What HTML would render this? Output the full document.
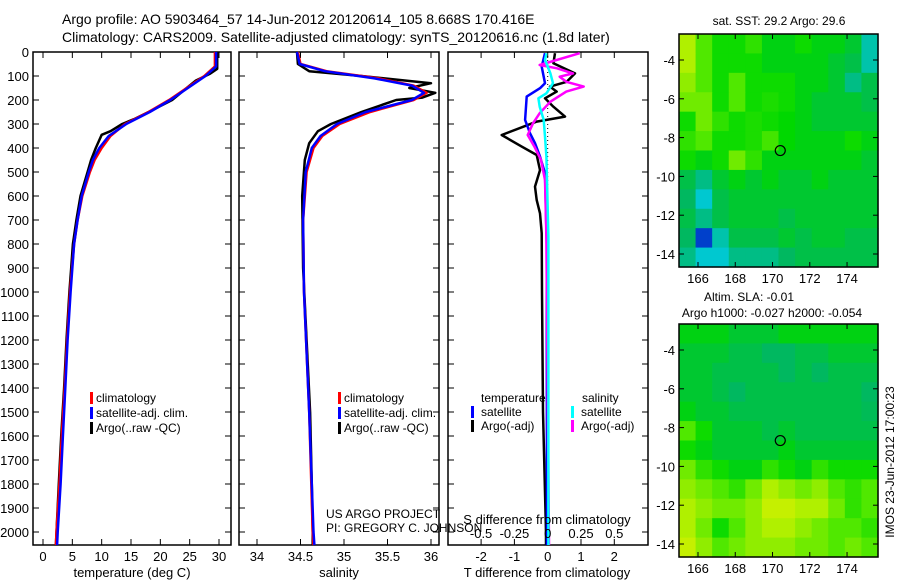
<!DOCTYPE html>
<html><head><meta charset="utf-8"><style>
html,body{margin:0;padding:0;background:#fff;}
svg{display:block;font-family:"Liberation Sans",sans-serif;}
</style></head><body>
<svg id="fig" width="900" height="580" xmlns="http://www.w3.org/2000/svg">
<text x="62" y="24" font-size="14">Argo profile: AO 5903464_57 14-Jun-2012 20120614_105 8.668S 170.416E</text>
<text x="62" y="42" font-size="14">Climatology: CARS2009. Satellite-adjusted climatology: synTS_20120616.nc (1.8d later)</text>
<g id="g"></g>
</svg>
<script>
// ---- profile data ----
const tArgoD=[0,70,90,120,150,200,250,280,300,330,345,400,450,500,600,700,800,900,1000,1200,1400,1600,1800,2000,2054];
const tArgoV=[29.7,29.7,28.5,26,24.5,22,18,15.5,13.5,11.5,10,9,8.2,7.6,6.4,5.7,5.1,4.8,4.5,4.0,3.6,3.1,2.7,2.3,2.2];
const tClimD=[0,60,100,150,200,250,300,350,400,450,500,600,700,800,1000,1200,1400,1600,1800,2000,2054];
const tClimV=[29.3,29.3,27.5,24.5,21.5,18,14,11.5,10,8.8,8,6.7,5.9,5.3,4.6,4.1,3.7,3.2,2.8,2.3,2.2];
const tSatD=[0,60,100,150,200,250,300,350,400,450,500,600,700,800,1000,1200,1400,1600,1800,2000,2054];
const tSatV=[29.5,29.5,27.7,24.7,21.7,18.2,14.2,11.2,9.6,8.5,7.8,6.6,5.9,5.3,4.7,4.2,3.8,3.4,3.0,2.5,2.4];
const sArgoD=[0,50,80,100,130,150,170,190,200,250,300,330,380,450,600,900,1200,1500,1800,2000,2054];
const sArgoV=[34.46,34.47,34.6,35.2,36.0,35.75,36.05,35.9,35.6,35.2,34.85,34.7,34.6,34.55,34.52,34.53,34.57,34.61,34.63,34.64,34.64];
const sClimD=[0,50,80,110,140,170,200,250,300,350,400,500,700,1000,1500,2000,2054];
const sClimV=[34.47,34.5,34.8,35.4,35.8,35.95,35.8,35.3,34.95,34.75,34.65,34.57,34.53,34.54,34.6,34.64,34.65];
const sSatD=[0,50,80,110,140,170,200,250,300,350,400,500,700,1000,1500,2000,2054];
const sSatV=[34.46,34.49,34.78,35.35,35.78,35.92,35.78,35.25,34.92,34.73,34.63,34.56,34.53,34.54,34.6,34.65,34.66];
const dTArgoD=[5,47,89,124,144,165,193,228,269,290,346,394,429,492,561,617,672,755,1000,1500,2000,2054];
const dTArgoV=[0.22,0.17,0.82,0.57,0.07,0.27,-0.08,0.17,0.52,-0.33,-1.38,-0.78,-0.33,-0.23,-0.38,-0.33,-0.23,-0.18,-0.17,-0.14,-0.05,-0.05];
const dTSatD=[5,61,130,151,186,283,339,380,436,505,800,2054];
const dTSatV=[-0.08,-0.18,-0.08,-0.23,-0.63,-0.68,-0.53,-0.38,-0.23,-0.08,-0.03,-0.02];
const dSArgoD=[5,54,68,89,103,124,144,165,207,255,297,346,394,450,533,769,2054];
const dSArgoV=[0.24,-0.06,0.07,0.19,0.09,0.14,0.27,0.14,0.02,-0.06,-0.11,-0.15,-0.1,-0.05,-0.02,-0.01,0.01];
const dSSatD=[5,33,89,130,172,193,228,283,353,436,769,2054];
const dSSatV=[-0.01,-0.02,0.02,0.04,-0.01,-0.07,-0.06,-0.03,-0.02,-0.01,0.005,0.005];
const depthTicks=[0,100,200,300,400,500,600,700,800,900,1000,1100,1200,1300,1400,1500,1600,1700,1800,1900,2000];
const tTicks=[0,5,10,15,20,25,30];
const sTicks=[34,34.5,35,35.5,36];
const sTickLabels=['34','34.5','35','35.5','36'];
const dTTicks=[-2,-1,0,1,2];
const dSTicks=[-0.5,-0.25,0,0.25,0.5];
const dSTickLabels=['-0.5','-0.25','0','0.25','0.5'];
// ---- map data (coarse grid, 0=blue .. 1=yellow) ----
const lonTicks=[166,168,170,172,174];
const latTicks=[-4,-6,-8,-10,-12,-14];
const argoLon=170.416, argoLat=-8.668;
const sstGrid=[
[0.85,0.7,0.6,0.6,0.65,0.55,0.55,0.6,0.55,0.55,0.5,0.3],
[0.85,0.7,0.6,0.6,0.6,0.55,0.55,0.55,0.55,0.5,0.45,0.3],
[0.8,0.7,0.6,0.7,0.6,0.6,0.6,0.55,0.55,0.5,0.35,0.45],
[0.75,0.75,0.6,0.7,0.6,0.62,0.6,0.55,0.5,0.5,0.5,0.45],
[0.6,0.75,0.65,0.6,0.62,0.6,0.58,0.55,0.5,0.5,0.5,0.5],
[0.65,0.7,0.6,0.6,0.62,0.68,0.58,0.55,0.55,0.55,0.6,0.55],
[0.6,0.55,0.6,0.75,0.65,0.55,0.55,0.55,0.55,0.55,0.55,0.5],
[0.45,0.35,0.5,0.55,0.5,0.55,0.5,0.5,0.55,0.5,0.5,0.5],
[0.4,0.25,0.45,0.5,0.5,0.5,0.5,0.5,0.5,0.5,0.5,0.5],
[0.45,0.35,0.45,0.5,0.5,0.5,0.45,0.5,0.5,0.5,0.5,0.5],
[0.4,0.1,0.3,0.45,0.45,0.45,0.5,0.45,0.5,0.5,0.45,0.45],
[0.35,0.25,0.25,0.35,0.35,0.35,0.4,0.45,0.45,0.45,0.45,0.45]];
const slaGrid=[
[0.55,0.55,0.55,0.5,0.5,0.5,0.55,0.55,0.55,0.55,0.55,0.55],
[0.5,0.5,0.5,0.45,0.45,0.4,0.4,0.45,0.45,0.5,0.5,0.5],
[0.5,0.5,0.45,0.45,0.45,0.45,0.4,0.45,0.4,0.45,0.45,0.45],
[0.5,0.5,0.45,0.4,0.45,0.45,0.45,0.45,0.45,0.45,0.45,0.4],
[0.55,0.5,0.5,0.45,0.45,0.45,0.45,0.45,0.45,0.45,0.45,0.42],
[0.7,0.6,0.5,0.5,0.5,0.45,0.5,0.45,0.45,0.45,0.45,0.45],
[0.6,0.55,0.5,0.5,0.5,0.5,0.55,0.5,0.5,0.5,0.5,0.5],
[0.75,0.65,0.6,0.55,0.55,0.65,0.6,0.55,0.65,0.6,0.6,0.6],
[0.8,0.75,0.7,0.65,0.75,0.85,0.8,0.75,0.8,0.7,0.65,0.7],
[0.85,0.8,0.75,0.75,0.8,0.9,0.9,0.85,0.85,0.75,0.65,0.7],
[0.85,0.75,0.6,0.7,0.8,0.85,0.85,0.8,0.75,0.7,0.7,0.65],
[0.9,0.8,0.7,0.75,0.8,0.8,0.8,0.75,0.75,0.7,0.75,0.7]];

const NS='http://www.w3.org/2000/svg';
const G=document.getElementById('g');
function mk(tag,attrs,parent){const e=document.createElementNS(NS,tag);for(const k in attrs)e.setAttribute(k,attrs[k]);(parent||G).appendChild(e);return e;}
function txt(x,y,s,size,anchor,parent){const t=mk('text',{x:x,y:y,'font-size':size||13,'text-anchor':anchor||'start'},parent);t.textContent=s;return t;}

const TOP=52,BOT=545;
const yD=d=>TOP+d*0.24;
const P1={l:33,r:231}, P2={l:239,r:439}, P3={l:448,r:648};
const xT=v=>43+v*5.867;
const xS=v=>257+(v-34)*87;
const xDT=v=>547.7+v*33.3;
const xDS=v=>547.7+v*133.2;

function frame(P,name){
  const r=mk('rect',{x:P.l,y:TOP,width:P.r-P.l,height:BOT-TOP,fill:'none',stroke:'#000','stroke-width':1.5});
  
  
  depthTicks.forEach(d=>{mk('line',{x1:P.l,x2:P.l+6,y1:yD(d),y2:yD(d),stroke:'#000'});mk('line',{x1:P.r-6,x2:P.r,y1:yD(d),y2:yD(d),stroke:'#000'});});
}
function line(D,V,xf,color,name,w){
  const pts=D.map((d,i)=>xf(V[i]).toFixed(1)+','+yD(d).toFixed(1)).join(' ');
  const p=mk('polyline',{points:pts,fill:'none',stroke:color,'stroke-width':w||2.5,'stroke-linejoin':'round'});
  
  
}
function legendBar(x,y,color){mk('rect',{x:x,y:y-10,width:3,height:12,fill:color});}

// panel 1
frame(P1,'temperature-panel');
tTicks.forEach(v=>{mk('line',{x1:xT(v),x2:xT(v),y1:TOP,y2:TOP+6,stroke:'#000'});mk('line',{x1:xT(v),x2:xT(v),y1:BOT-6,y2:BOT,stroke:'#000'});
  const t=txt(xT(v),561,String(v),13,'middle');});
depthTicks.forEach(d=>{const t=txt(29,yD(d)+5,String(d),13,'end');});
line(tArgoD,tArgoV,xT,'#000','temp-argo-line');
line(tClimD,tClimV,xT,'#f00','temp-climatology-line');
line(tSatD,tSatV,xT,'#00f','temp-satellite-line');
let t1=txt(132,577,'temperature (deg C)',13,'middle');
legendBar(90,402,'#f00');txt(96,402,'climatology',12);
legendBar(90,417,'#00f');txt(96,417,'satellite-adj. clim.',12);
legendBar(90,432,'#000');txt(96,432,'Argo(..raw -QC)',12);

// panel 2
frame(P2,'salinity-panel');
sTicks.forEach((v,i)=>{mk('line',{x1:xS(v),x2:xS(v),y1:TOP,y2:TOP+6,stroke:'#000'});mk('line',{x1:xS(v),x2:xS(v),y1:BOT-6,y2:BOT,stroke:'#000'});
  const t=txt(xS(v),561,sTickLabels[i],13,'middle');});
line(sArgoD,sArgoV,xS,'#000','salinity-argo-line');
line(sClimD,sClimV,xS,'#f00','salinity-climatology-line');
line(sSatD,sSatV,xS,'#00f','salinity-satellite-line');
let t2=txt(339,577,'salinity',13,'middle');
legendBar(338,402,'#f00');txt(344,402,'climatology',12);
legendBar(338,417,'#00f');txt(344,417,'satellite-adj. clim.',12);
legendBar(338,432,'#000');txt(344,432,'Argo(..raw -QC)',12);

// panel 3
frame(P3,'difference-panel');
dTTicks.forEach(v=>{mk('line',{x1:xDT(v),x2:xDT(v),y1:TOP,y2:TOP+6,stroke:'#000'});mk('line',{x1:xDT(v),x2:xDT(v),y1:BOT-6,y2:BOT,stroke:'#000'});
  const t=txt(xDT(v),561,String(v),13,'middle');});
mk('line',{x1:xDT(0),x2:xDT(0),y1:TOP,y2:BOT,stroke:'#000','stroke-dasharray':'1,3'});
line(dTArgoD,dTArgoV,xDT,'#000','tdiff-argo-line');
line(dTSatD,dTSatV,xDT,'#00f','tdiff-satellite-line');
line(dSArgoD,dSArgoV,xDS,'#f0f','sdiff-argo-line');
line(dSSatD,dSSatV,xDS,'#0ff','sdiff-satellite-line');
txt(481,402,'temperature',12);txt(582,402,'salinity',12);
legendBar(471,416,'#00f');txt(481,416,'satellite',12);
legendBar(571,416,'#0ff');txt(581,416,'satellite',12);
legendBar(471,430,'#000');txt(481,430,'Argo(-adj)',12);
legendBar(571,430,'#f0f');txt(581,430,'Argo(-adj)',12);
let t3=txt(547,524,'S difference from climatology',13,'middle');
dSTicks.forEach((v,i)=>{const t=txt(xDS(v),538,dSTickLabels[i],13,'middle');});
let t4=txt(547,577,'T difference from climatology',13,'middle');
txt(326,518,'US ARGO PROJECT',12);
txt(326,532,'PI: GREGORY C. JOHNSON',12);

// maps
const stops=[[0,[0,0,160]],[0.15,[0,96,224]],[0.25,[0,200,208]],[0.4,[0,184,96]],[0.5,[0,200,48]],[0.58,[0,216,0]],[0.7,[80,232,0]],[0.85,[176,240,0]],[1,[240,240,0]]];
function cmap(v){for(let i=1;i<stops.length;i++){if(v<=stops[i][0]){const a=stops[i-1],b=stops[i],f=(v-a[0])/(b[0]-a[0]);return 'rgb('+a[1].map((c,k)=>Math.round(c+(b[1][k]-c)*f)).join(',')+')';}}return 'rgb(240,240,0)';}
function map(grid,top,name){
  const L=679,R=878,B=top+233;
  const xL=lon=>698+(lon-166)*18.63;
  const yL=lat=>top+26+(-4-lat)*19.4;
  const g=mk('g',{});
  
  
  const nr=grid.length,nc=grid[0].length,cw=(R-L)/nc,ch=(B-top)/nr;
  grid.forEach((row,i)=>row.forEach((v,j)=>{mk('rect',{x:L+j*cw,y:top+i*ch,width:cw+0.6,height:ch+0.6,fill:cmap(v)},g);}));
  mk('rect',{x:L,y:top,width:R-L,height:B-top,fill:'none',stroke:'#000','stroke-width':1.5});
  lonTicks.forEach(v=>{mk('line',{x1:xL(v),x2:xL(v),y1:top,y2:top+5,stroke:'#000'});mk('line',{x1:xL(v),x2:xL(v),y1:B-5,y2:B,stroke:'#000'});txt(xL(v),B+16,String(v),13,'middle');});
  latTicks.forEach(v=>{mk('line',{x1:L,x2:L+5,y1:yL(v),y2:yL(v),stroke:'#000'});mk('line',{x1:R-5,x2:R,y1:yL(v),y2:yL(v),stroke:'#000'});txt(675,yL(v)+5,String(v),13,'end');});
  const c=mk('circle',{cx:xL(argoLon),cy:yL(argoLat),r:5,fill:'none',stroke:'#000','stroke-width':1.2});
  
  
}
map(sstGrid,34,'sst-map');
map(slaGrid,324,'sla-map');
txt(779,25,'sat. SST: 29.2 Argo: 29.6',12,'middle');
txt(749,301,'Altim. SLA: -0.01',12,'middle');
txt(772,317,'Argo h1000: -0.027 h2000: -0.054',12,'middle');
const vt=txt(0,0,'IMOS 23-Jun-2012 17:00:23',12,'middle');
vt.setAttribute('transform','translate(894,462) rotate(-90)');


</script>
</body></html>
